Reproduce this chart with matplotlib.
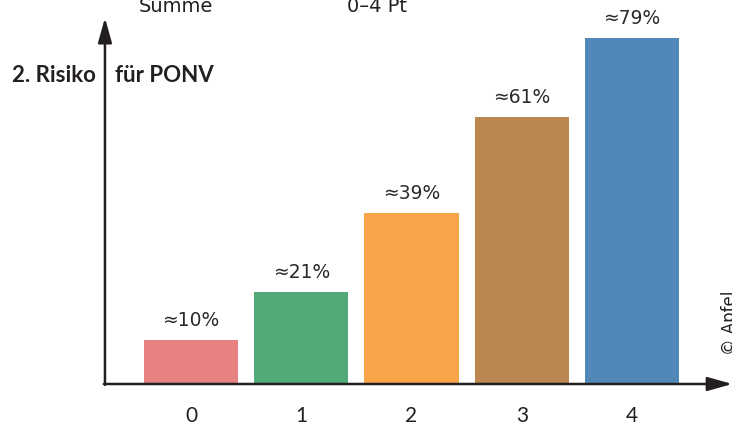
import matplotlib
matplotlib.use("Agg")
import matplotlib.pyplot as plt

# PONV risk by score sum
scores = ["0", "1", "2", "3", "4"]
risk_pct = [10, 21, 39, 61, 79]
bar_colors = ["#E88280", "#52AA78", "#F9A64A", "#B9874F", "#5288B8"]

plt.rcParams["font.family"] = ["DejaVu Sans"]
ink = "#231F20"

fig = plt.figure(figsize=(7.32, 4.26), dpi=100)
ax = fig.add_axes([0, 0, 1, 1])
ax.set_xlim(-1.732, 4.907)
ax.set_ylim(-9.59, 87.67)
ax.axis("off")

xs = list(range(len(scores)))
ax.bar(xs, risk_pct, width=0.853, color=bar_colors, zorder=2)

for x, v in zip(xs, risk_pct):
    ax.annotate(f"≈{v}%", (x, v), xytext=(0, 7), textcoords="offset points",
                ha="center", va="bottom", fontsize=13.5, color="#2a2a2a")
    ax.annotate(scores[x], (x, 0), xytext=(0, -16), textcoords="offset points",
                ha="center", va="top", fontsize=15, color=ink,
                family=["Lato", "DejaVu Sans"])

# axis arrows
y0x = -0.78
head = "-|>,head_length=1.5,head_width=0.42"
ax.annotate("", xy=(y0x, 83.6), xytext=(y0x, -0.2),
            arrowprops=dict(arrowstyle=head, lw=1.8, color=ink,
                            shrinkA=0, shrinkB=0), zorder=3)
ax.annotate("", xy=(4.91, 0), xytext=(y0x - 0.01, 0),
            arrowprops=dict(arrowstyle=head, lw=1.8, color=ink,
                            shrinkA=0, shrinkB=0), zorder=3)

title_kw = dict(fontsize=16, fontweight="bold", color=ink, ha="left",
                va="baseline", family=["Lato", "DejaVu Sans"])
fig.text(12 / 732, 1 - 82 / 426, "2. Risiko", **title_kw)
fig.text(115 / 732, 1 - 82 / 426, "für PONV", **title_kw)
fig.text(176 / 732, 1 - 12 / 426, "Summe", fontsize=14, color=ink,
         ha="center", va="baseline")
fig.text(377 / 732, 1 - 12 / 426, "0–4 Pt", fontsize=14, color=ink,
         ha="center", va="baseline")
fig.text(730 / 732, 1 - 323 / 426, "© Apfel", fontsize=12, color=ink,
         rotation=90, ha="center", va="center")

fig.savefig("out.png", dpi=100)
